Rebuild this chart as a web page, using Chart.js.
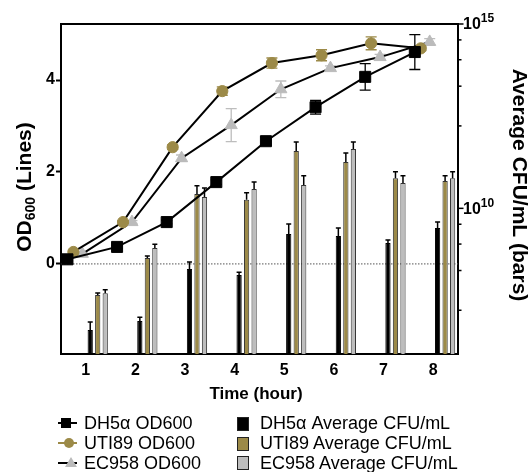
<!DOCTYPE html>
<html>
<head>
<meta charset="utf-8">
<title>OD600 and CFU/mL</title>
<script src="https://cdn.jsdelivr.net/npm/chart.js@4.4.0/dist/chart.umd.min.js"></script>
<style>
  body { margin: 0; background: #fff; }
  #wrap { position: relative; width: 531px; height: 472px; font-family: "Liberation Sans", Arial, sans-serif; }
  #chart { position: absolute; left: 0; top: 0; }
  .leg { position: absolute; font-size: 18px; line-height: 20px; color: #000; white-space: nowrap; }
  .icon { position: absolute; }
</style>
</head>
<body>
<div id="wrap">
  <canvas id="chart" width="531" height="472"></canvas>
  <div id="legend"></div>
</div>

<script>
// valores
const hours = [1, 2, 3, 4, 5, 6, 7, 8];
const strains = ['DH5α', 'UTI89', 'EC958'];

const odDH5a = [0.10, 0.37, 0.91, 1.78, 2.67, 3.41, 4.07, 4.61];
const odDH5aErr = [0.03, 0.03, 0.04, 0.05, 0.08, 0.15, 0.29, 0.38];
const odUTI89 = [0.26, 0.91, 2.54, 3.76, 4.37, 4.54, 4.80, 4.69];
const odUTI89Err = [0.02, 0.03, 0.05, 0.09, 0.11, 0.12, 0.14, 0.05];
const odEC958 = [0.22, 0.91, 2.30, 3.02, 3.80, 4.26, 4.50, 4.83];
const odEC958Err = [0.02, 0.03, 0.07, 0.36, 0.18, 0.05, 0.06, 0.07];

const cfuDH5a = [5.0e6, 8.8e6, 2.26e8, 1.55e8, 2.0e9, 1.78e9, 1.15e9, 2.93e9];
const cfuDH5aErr = [3.3e6, 2.4e6, 1.25e8, 0.31e8, 1.76e9, 1.15e9, 0.23e9, 1.34e9];
const cfuUTI89 = [4.47e7, 4.47e8, 2.45e10, 1.7e10, 3.6e11, 1.81e11, 6.6e10, 5.5e10];
const cfuUTI89Err = [0.55e7, 0.66e8, 1.62e10, 0.93e10, 2.7e11, 1.35e11, 3.2e10, 2.1e10];
const cfuEC958 = [5.0e7, 8.4e8, 2.04e10, 3.35e10, 4.3e10, 4.07e11, 4.9e10, 6.6e10];
const cfuEC958Err = [1.17e7, 0.23e9, 1.5e10, 1.84e10, 3.3e10, 2.2e11, 2.7e10, 3.2e10];

const odTicks = [0, 2, 4];
const cfuMajorExp = [10, 15];

// estilos
const FONT = '"Liberation Sans", Arial, sans-serif';
const GOLD = '#9C8A48';
const GREY = '#BDBDBD';
const colors = ['#000000', GOLD, GREY];
const lineOffset = [-0.37, -0.25, -0.07];   // desplazamiento de cada curva respecto a la hora
const barOffset = 0.24;
const pointStyles = ['rect', 'circle', 'triangle'];
const pointRadii = [7.8, 5.6, 7];

const odSeries = [odDH5a, odUTI89, odEC958];
const odErrs = [odDH5aErr, odUTI89Err, odEC958Err];
const cfuSeries = [cfuDH5a, cfuUTI89, cfuEC958];
const cfuErrs = [cfuDH5aErr, cfuUTI89Err, cfuEC958Err];

// marcas menores del eje derecho (estilo Prism)
const minorTicks = [];
[5, 10].forEach(function (e) {
  for (let k = 1; k <= 4; k++) minorTicks.push(Math.pow(10, e + 5 * Math.log10(1 + 1.8 * k)));
});

const datasets = [];
strains.forEach(function (s, j) {
  datasets.push({
    type: 'line',
    label: s + ' OD600',
    data: hours.map((h, i) => ({ x: h + lineOffset[j], y: odSeries[j][i] })),
    errors: odErrs[j],
    errColor: colors[j],
    xAxisID: 'x',
    yAxisID: 'y',
    borderColor: '#000',
    borderWidth: 2,
    pointStyle: pointStyles[j],
    pointRadius: pointRadii[j],
    pointBackgroundColor: j === 2 ? '#BBBBBB' : colors[j],
    pointBorderColor: j === 2 ? '#BBBBBB' : colors[j],
    pointBorderWidth: 1,
    tension: 0,
    order: 0
  });
});
strains.forEach(function (s, j) {
  datasets.push({
    type: 'bar',
    label: s + ' Average CFU/mL',
    data: hours.map((h, i) => ({ x: h + barOffset, y: cfuSeries[j][i] })),
    errors: cfuErrs[j],
    errColor: '#000',
    xAxisID: 'x',
    yAxisID: 'y1',
    backgroundColor: colors[j],
    borderColor: j === 0 ? '#000' : '#333',
    borderWidth: 1,
    categoryPercentage: 0.4536,
    barPercentage: 0.7,
    order: 1
  });
});

function drawErr(chart, meta, ds, both) {
  const ctx = chart.ctx;
  const ys = chart.scales[meta.yAxisID];
  const c = both ? 5.5 : 2.5;
  ctx.save();
  ctx.strokeStyle = ds.errColor;
  ctx.lineWidth = both ? 1.3 : 1.5;
  meta.data.forEach(function (el, i) {
    const v = ds.data[i].y, e = ds.errors[i];
    const top = ys.getPixelForValue(v + e);
    const bot = both ? ys.getPixelForValue(v - e) : el.y;
    ctx.beginPath();
    ctx.moveTo(el.x, top); ctx.lineTo(el.x, bot);
    ctx.moveTo(el.x - c, top); ctx.lineTo(el.x + c, top);
    if (both) { ctx.moveTo(el.x - c, bot); ctx.lineTo(el.x + c, bot); }
    ctx.stroke();
  });
  ctx.restore();
}

const extras = {
  id: 'extras',
  beforeDatasetsDraw(chart) {
    const ctx = chart.ctx, a = chart.chartArea;
    const y0 = chart.scales.y.getPixelForValue(0);
    ctx.save();
    ctx.strokeStyle = '#555';
    ctx.lineWidth = 1;
    ctx.setLineDash([1.5, 1.5]);
    ctx.beginPath();
    ctx.moveTo(a.left, y0); ctx.lineTo(a.right, y0);
    ctx.stroke();
    ctx.restore();
  },
  beforeDatasetDraw(chart, args) {
    const ds = chart.data.datasets[args.index];
    if (ds.type === 'line') drawErr(chart, args.meta, ds, true);
  },
  afterDatasetDraw(chart, args) {
    const ds = chart.data.datasets[args.index];
    if (ds.type === 'bar') drawErr(chart, args.meta, ds, false);
  },
  afterDraw(chart) {
    const ctx = chart.ctx, a = chart.chartArea;
    ctx.save();
    // borde superior
    ctx.strokeStyle = '#000';
    ctx.lineWidth = 2;
    ctx.beginPath();
    ctx.moveTo(a.left - 1, a.top); ctx.lineTo(a.right + 1, a.top);
    ctx.stroke();

    // eje derecho: marcas y etiquetas
    const s = chart.scales.y1;
    const x = s.left;
    ctx.lineWidth = 1.5;
    minorTicks.forEach(function (v) {
      const y = s.getPixelForValue(v);
      ctx.beginPath(); ctx.moveTo(x, y); ctx.lineTo(x + 3.5, y); ctx.stroke();
    });
    ctx.fillStyle = '#000';
    cfuMajorExp.forEach(function (e) {
      const y = s.getPixelForValue(Math.pow(10, e));
      ctx.beginPath(); ctx.moveTo(x, y); ctx.lineTo(x + 5.5, y); ctx.stroke();
      ctx.font = 'bold 16px ' + FONT;
      ctx.textBaseline = 'middle';
      ctx.textAlign = 'left';
      ctx.fillText('10', x + 5, y + 1);
      const w = ctx.measureText('10').width;
      ctx.font = 'bold 12px ' + FONT;
      ctx.fillText(String(e), x + 5 + w, y - 5);
    });

    // titulo eje izquierdo con subindice
    ctx.save();
    ctx.translate(23, 187);
    ctx.rotate(-Math.PI / 2);
    ctx.textBaseline = 'alphabetic';
    ctx.textAlign = 'left';
    const fBig = 'bold 21px ' + FONT, fSub = 'bold 14px ' + FONT;
    ctx.font = fBig;
    const w1 = ctx.measureText('OD').width, w3 = ctx.measureText(' (Lines)').width;
    ctx.font = fSub;
    const w2 = ctx.measureText('600').width;
    let x0 = -(w1 + w2 + w3) / 2;
    ctx.font = fBig; ctx.fillText('OD', x0, 8);
    ctx.font = fSub; ctx.fillText('600', x0 + w1, 12);
    ctx.font = fBig; ctx.fillText(' (Lines)', x0 + w1 + w2, 8);
    ctx.restore();

    // titulo eje derecho
    ctx.save();
    ctx.translate(520, 185);
    ctx.rotate(Math.PI / 2);
    ctx.font = 'bold 21px ' + FONT;
    ctx.textAlign = 'center';
    ctx.textBaseline = 'alphabetic';
    ctx.fillText('Average CFU/mL (bars)', 0, 7);
    ctx.restore();

    // titulo eje x
    ctx.font = 'bold 17px ' + FONT;
    ctx.textAlign = 'center';
    ctx.textBaseline = 'middle';
    ctx.fillText('Time (hour)', 256, 394);
    ctx.restore();
  }
};

new Chart(document.getElementById('chart'), {
  type: 'bar',
  data: { datasets: datasets },
  options: {
    responsive: false,
    animation: false,
    devicePixelRatio: 1,
    layout: { padding: { top: 24, left: 0, right: 0, bottom: 0 } },
    plugins: { legend: { display: false }, tooltip: { enabled: false } },
    scales: {
      x: {
        type: 'linear',
        min: 0.5,
        max: 8.5,
        offset: false,
        afterBuildTicks: s => { s.ticks = hours.map(v => ({ value: v })); },
        afterFit: s => { s.height = 118; },
        grid: { display: false, drawTicks: false },
        border: { display: true, color: '#000', width: 2 },
        ticks: { color: '#000', padding: 7, font: { family: FONT, size: 16, weight: 'bold' } }
      },
      y: {
        type: 'linear',
        position: 'left',
        min: -1.96,
        max: 5.22,
        afterBuildTicks: s => { s.ticks = odTicks.map(v => ({ value: v })); },
        afterFit: s => { s.width = 61; },
        grid: { drawOnChartArea: false, drawTicks: true, tickLength: 5, tickWidth: 2, tickColor: '#000' },
        border: { display: true, color: '#000', width: 2 },
        ticks: { color: '#000', padding: 1, font: { family: FONT, size: 16, weight: 'bold' } }
      },
      y1: {
        type: 'logarithmic',
        position: 'right',
        min: 1.12e6,
        max: 1e15,
        afterFit: s => { s.width = 73; },
        grid: { display: false, drawTicks: false },
        border: { display: true, color: '#000', width: 2 },
        ticks: { display: false }
      }
    }
  },
  plugins: [extras]
});

// leyenda en dos columnas
const legend = document.getElementById('legend');
const rows = [423, 443, 462.5];
strains.forEach(function (s, j) {
  const cy = rows[j];
  // icono de linea con marcador
  const ln = document.createElement('div');
  ln.className = 'icon';
  ln.style.cssText = 'left:58px;top:' + (cy - 1) + 'px;width:19px;height:2px;background:' + (j === 1 ? GOLD : '#000') + ';';
  legend.appendChild(ln);
  const mk = document.createElement('div');
  mk.className = 'icon';
  if (j === 0) {
    mk.style.cssText = 'left:61px;top:' + (cy - 5) + 'px;width:10px;height:10px;background:#000;';
  } else if (j === 1) {
    mk.style.cssText = 'left:63.5px;top:' + (cy - 5) + 'px;width:10px;height:10px;border-radius:50%;background:' + GOLD + ';';
  } else {
    mk.style.cssText = 'left:64.5px;top:' + (cy - 6) + 'px;width:0;height:0;border-left:6px solid transparent;border-right:6px solid transparent;border-bottom:10px solid #BBBBBB;';
  }
  legend.appendChild(mk);
  const t1 = document.createElement('div');
  t1.className = 'leg';
  t1.style.left = '84px';
  t1.style.top = (cy - 10) + 'px';
  t1.textContent = s + ' OD600';
  legend.appendChild(t1);

  // muestra de barra
  const sw = document.createElement('div');
  sw.className = 'icon';
  sw.style.cssText = 'left:237px;top:' + (cy - 6.5) + 'px;width:10px;height:12px;background:' + colors[j] + ';border:1px solid #222;';
  legend.appendChild(sw);
  const t2 = document.createElement('div');
  t2.className = 'leg';
  t2.style.left = '260px';
  t2.style.top = (cy - 10) + 'px';
  t2.textContent = s + ' Average CFU/mL';
  legend.appendChild(t2);
});
</script>
</body>
</html>
